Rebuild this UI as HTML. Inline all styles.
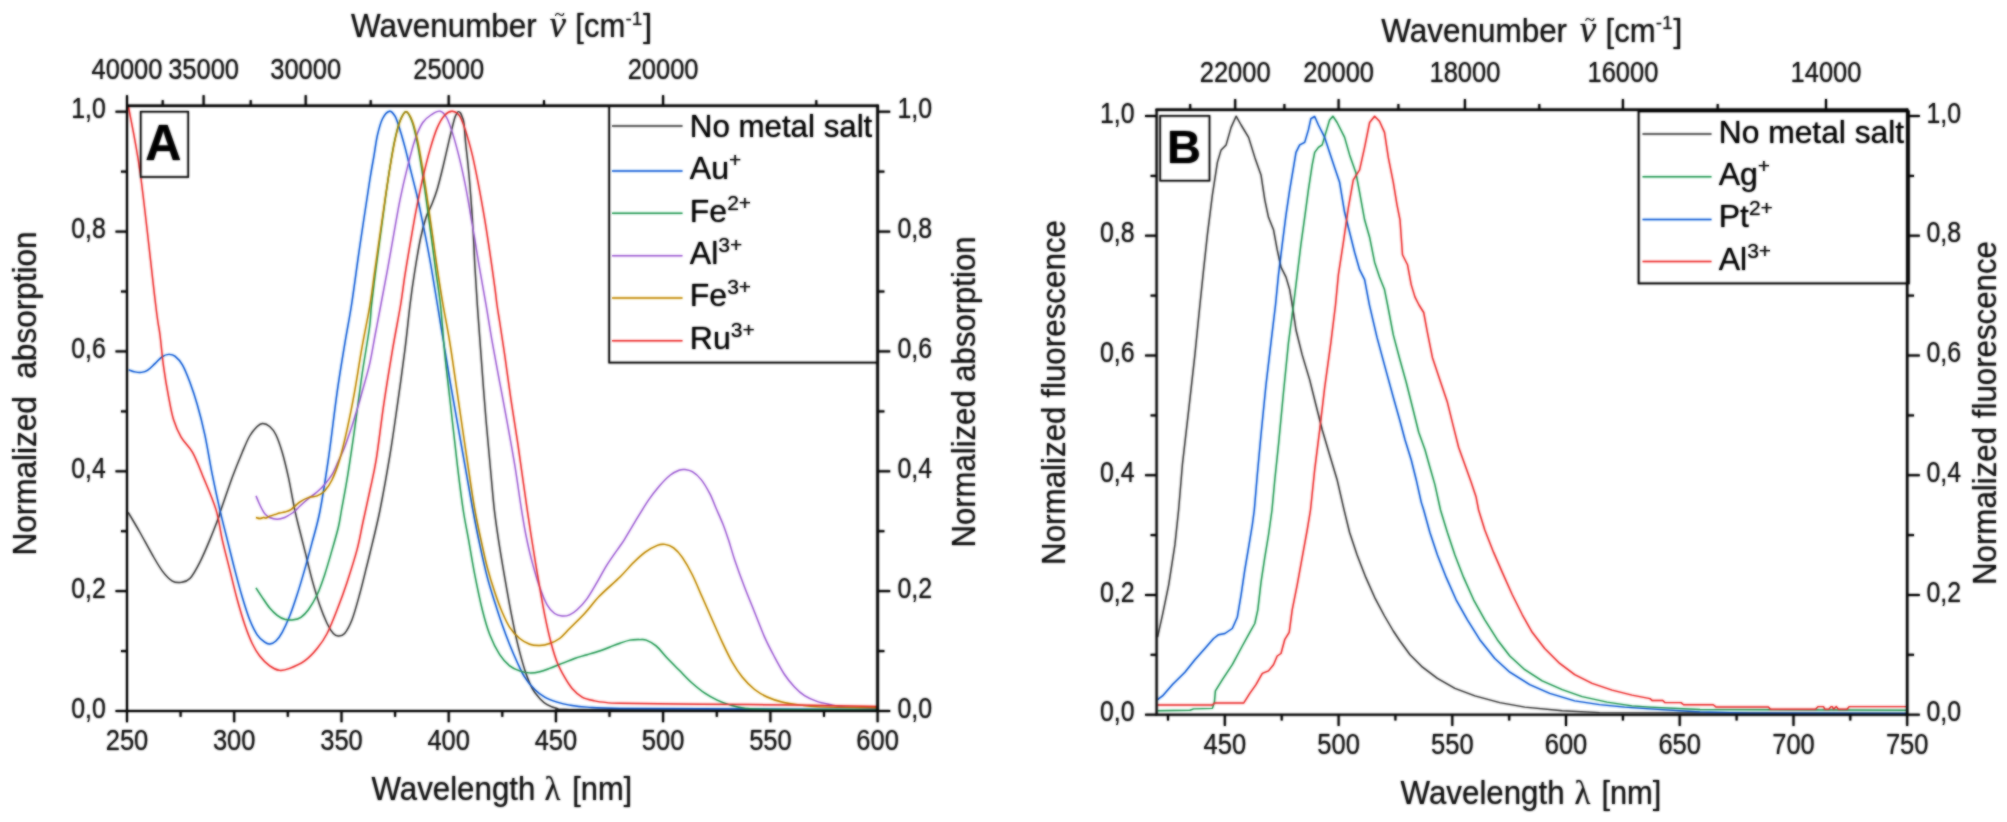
<!DOCTYPE html>
<html><head><meta charset="utf-8"><title>Spectra</title>
<style>html,body{margin:0;padding:0;background:#fff}svg{display:block}text{white-space:pre}</style></head>
<body>
<svg width="2007" height="822" viewBox="0 0 2007 822">
<rect width="2007" height="822" fill="#fff"/>
<defs><filter id="soft" color-interpolation-filters="sRGB" x="0" y="0" width="2007" height="822" filterUnits="userSpaceOnUse"><feGaussianBlur stdDeviation="0.80" result="b"/><feComponentTransfer in="SourceGraphic" result="s"><feFuncR type="linear" slope="0.50" intercept="0.50"/><feFuncG type="linear" slope="0.50" intercept="0.50"/><feFuncB type="linear" slope="0.50" intercept="0.50"/></feComponentTransfer><feBlend mode="multiply" in="b" in2="s"/></filter></defs>
<g filter="url(#soft)">
<rect width="2007" height="822" fill="#fff"/>
<g fill="none" stroke-width="1.45" stroke-linejoin="round" stroke-linecap="butt">
<path d="M128.2 512.5C130.2 515.8 136.0 525.4 140.0 532.5C144.0 539.6 148.7 548.5 152.4 554.9C156.1 561.3 159.1 566.7 162.4 571.1C165.7 575.5 169.3 579.2 172.4 581.1C175.5 583.0 178.2 582.8 181.1 582.4C184.0 582.0 186.8 581.9 189.9 578.6C193.0 575.3 196.5 568.9 199.8 562.4C203.1 555.9 206.7 547.4 209.8 539.9C212.9 532.4 216.7 522.5 218.6 517.5C220.5 512.5 218.7 516.3 221.0 509.6C223.3 502.9 228.8 486.8 232.3 477.2C235.9 467.6 239.4 459.1 242.3 452.2C245.2 445.3 247.2 440.3 249.7 436.0C252.2 431.7 255.0 428.6 257.2 426.5C259.4 424.4 260.6 423.5 262.7 423.5C264.8 423.5 267.5 424.6 269.7 426.5C271.9 428.4 273.8 430.4 275.9 434.7C278.0 439.0 280.1 445.1 282.2 452.2C284.3 459.3 286.3 467.6 288.4 477.2C290.5 486.8 292.8 500.8 294.7 509.6C296.6 518.4 297.7 522.5 299.6 530.0C301.5 537.5 303.8 546.6 305.9 554.9C308.0 563.2 309.8 571.6 312.1 579.9C314.4 588.2 317.1 597.5 319.6 604.8C322.1 612.1 324.8 618.7 327.1 623.5C329.4 628.3 331.4 631.4 333.3 633.5C335.2 635.6 336.4 636.0 338.3 636.0C340.2 636.0 342.3 636.2 344.6 633.5C346.9 630.8 349.5 626.2 352.0 619.8C354.5 613.3 357.2 603.1 359.5 594.8C361.8 586.5 364.1 576.9 365.8 569.9C367.6 562.9 367.6 563.0 370.0 553.0C372.4 543.0 376.7 526.4 380.0 510.0C383.3 493.6 387.1 472.2 390.0 454.7C392.9 437.2 394.9 422.3 397.4 404.8C399.9 387.3 402.8 366.5 404.9 349.9C407.0 333.3 408.4 318.1 410.0 305.0C411.6 291.9 413.0 282.2 414.8 271.0C416.6 259.8 418.7 246.9 420.6 238.0C422.5 229.1 424.2 223.0 426.0 217.5C427.8 212.0 429.6 209.8 431.5 205.0C433.4 200.2 435.4 195.5 437.3 189.0C439.2 182.5 441.2 174.3 443.2 166.0C445.2 157.7 447.5 147.1 449.4 139.2C451.3 131.3 453.2 123.1 454.5 118.7C455.8 114.3 456.4 114.2 457.0 113.0C457.6 111.8 457.8 111.6 458.4 111.6C459.0 111.6 459.9 112.1 460.5 113.0C461.1 113.9 461.6 115.3 462.2 117.0C462.8 118.7 463.3 118.7 463.9 123.0C464.5 127.3 465.0 136.8 465.6 142.6C466.2 148.4 466.7 152.5 467.3 157.9C467.9 163.3 468.4 168.8 469.0 175.0C469.6 181.2 470.1 188.0 470.7 195.4C471.3 202.8 471.9 211.9 472.4 219.3C472.9 226.7 473.2 232.1 473.6 239.7C474.0 247.3 474.2 253.9 474.8 264.7C475.4 275.5 476.3 289.6 477.3 304.6C478.3 319.6 479.6 335.7 481.0 354.9C482.4 374.1 484.3 399.8 486.0 419.8C487.7 439.8 489.6 459.7 491.0 474.7C492.4 489.7 493.1 498.7 494.3 509.6C495.6 520.5 496.8 528.6 498.5 539.9C500.2 551.2 502.6 565.3 504.7 577.4C506.8 589.5 508.9 601.5 511.0 612.3C513.1 623.1 514.9 632.6 517.2 642.2C519.5 651.8 522.2 662.0 524.7 669.7C527.2 677.4 529.7 683.6 532.2 688.4C534.7 693.2 537.2 695.7 539.7 698.4C542.2 701.1 544.2 702.9 547.1 704.6C550.0 706.3 553.4 707.6 557.1 708.4C560.9 709.2 545.8 709.3 569.6 709.6C593.4 709.9 648.8 709.9 700.0 710.0C751.2 710.1 847.5 710.0 877.0 710.0" stroke="#515151"/>
<path d="M128.7 369.9C129.8 370.2 132.9 371.5 135.0 371.9C137.1 372.3 139.1 372.6 141.2 372.4C143.3 372.1 145.1 371.9 147.4 370.4C149.7 368.9 152.5 365.9 155.0 363.6C157.5 361.3 160.1 358.1 162.4 356.6C164.7 355.1 166.6 354.5 168.7 354.4C170.8 354.3 172.6 354.4 174.9 356.1C177.2 357.9 179.9 360.5 182.4 364.9C184.9 369.3 187.4 375.6 189.9 382.3C192.4 389.0 194.8 396.1 197.3 404.8C199.8 413.5 202.3 423.1 204.8 434.7C207.3 446.3 209.8 462.2 212.3 474.7C214.8 487.2 217.3 498.7 219.8 509.6C222.3 520.5 224.8 529.9 227.3 539.9C229.8 549.9 232.3 560.3 234.8 569.9C237.3 579.5 239.8 589.0 242.3 597.3C244.8 605.6 247.2 613.5 249.7 619.8C252.2 626.0 254.7 631.1 257.2 634.8C259.7 638.5 262.6 640.7 264.7 642.2C266.8 643.7 267.8 644.2 269.7 644.0C271.6 643.8 273.8 643.0 275.9 641.0C278.0 639.0 279.9 636.5 282.2 632.3C284.5 628.1 287.2 622.2 289.7 616.0C292.2 609.8 294.6 602.5 297.1 594.8C299.6 587.1 302.1 578.6 304.6 569.9C307.1 561.2 309.5 552.2 312.1 542.4C314.7 532.6 317.3 524.8 320.0 511.0C322.7 497.2 325.4 479.5 328.3 459.7C331.2 439.9 334.4 411.4 337.1 392.3C339.8 373.2 342.2 359.4 344.6 344.9C347.0 330.3 348.9 321.6 351.5 305.0C354.1 288.4 356.9 265.8 360.0 245.0C363.1 224.2 367.5 194.6 369.8 180.0C372.1 165.4 372.4 164.9 373.7 157.4C375.0 149.9 376.0 141.3 377.5 134.9C379.0 128.5 380.5 122.7 382.5 118.7C384.5 114.8 387.4 111.6 389.5 111.2C391.6 110.8 393.2 113.1 395.0 116.2C396.8 119.3 398.3 124.8 400.0 130.0C401.7 135.2 403.1 140.3 405.0 147.4C406.9 154.5 409.1 164.1 411.2 172.4C413.3 180.7 415.3 188.2 417.4 197.3C419.5 206.4 421.5 216.8 423.6 227.2C425.7 237.6 428.0 249.2 429.9 259.7C431.8 270.2 432.9 277.4 435.0 290.0C437.1 302.6 439.9 320.0 442.4 335.0C444.9 350.0 447.3 365.3 449.8 379.9C452.3 394.4 454.8 408.2 457.3 422.3C459.8 436.4 462.3 450.6 464.8 464.7C467.3 478.8 469.8 493.6 472.3 507.0C474.8 520.4 477.3 533.2 479.8 544.9C482.3 556.6 484.8 567.8 487.3 577.4C489.8 587.0 492.3 594.4 494.8 602.3C497.3 610.2 499.7 617.7 502.2 624.8C504.7 631.9 507.2 638.5 509.7 644.7C512.2 650.9 514.7 656.8 517.2 662.2C519.7 667.6 521.8 672.6 524.7 677.2C527.6 681.8 531.4 686.3 534.7 689.6C538.0 692.9 541.0 695.0 544.7 697.1C548.4 699.2 553.0 700.8 557.1 702.1C561.2 703.4 564.6 704.3 569.6 705.1C574.6 705.9 578.7 706.6 587.1 707.1C595.5 707.6 592.9 708.1 620.0 708.4C647.1 708.7 707.2 708.8 750.0 709.0C792.8 709.2 855.8 709.3 877.0 709.4" stroke="#1A6FDF"/>
<path d="M256.0 587.8C257.0 589.4 259.9 593.9 262.2 597.3C264.5 600.7 267.2 605.0 269.7 608.0C272.2 611.0 274.7 613.4 277.2 615.3C279.7 617.2 282.0 618.5 284.7 619.3C287.4 620.0 290.7 620.1 293.4 619.8C296.1 619.5 298.4 619.0 300.9 617.3C303.4 615.6 305.7 613.5 308.4 609.8C311.1 606.0 314.4 600.6 317.1 594.8C319.8 589.0 322.1 582.4 324.6 574.9C327.1 567.4 329.8 557.8 332.1 549.9C334.4 542.0 336.7 534.1 338.3 527.5C339.9 520.9 340.1 518.0 341.5 510.0C342.9 502.0 344.8 493.1 347.0 479.7C349.2 466.3 352.0 447.3 354.5 429.8C357.0 412.3 359.5 391.9 362.0 374.9C364.5 357.8 367.9 339.1 369.5 327.5C371.1 315.9 370.4 314.6 371.5 305.0C372.6 295.4 374.3 281.4 375.8 269.7C377.3 258.0 378.9 246.3 380.5 234.7C382.1 223.0 383.6 211.0 385.2 199.8C386.8 188.6 388.3 177.4 389.9 167.4C391.5 157.4 393.1 147.6 394.8 139.9C396.5 132.2 397.9 125.9 399.8 121.2C401.7 116.5 404.0 111.7 406.0 111.7C408.0 111.7 410.1 116.5 411.9 121.2C413.7 125.9 415.1 132.2 416.7 139.9C418.3 147.6 419.9 157.4 421.5 167.4C423.1 177.4 424.7 188.6 426.3 199.8C427.9 211.0 429.4 223.0 431.0 234.7C432.6 246.3 434.0 258.0 435.6 269.7C437.2 281.4 438.9 290.8 440.5 305.0C442.1 319.2 443.1 337.4 444.9 354.9C446.7 372.4 449.0 391.5 451.1 409.8C453.2 428.1 455.3 448.0 457.3 464.7C459.3 481.4 461.3 497.5 463.2 510.0C465.1 522.5 466.7 529.1 468.6 539.9C470.5 550.7 472.5 563.2 474.8 574.9C477.1 586.5 479.8 599.8 482.3 609.8C484.8 619.8 486.9 627.3 489.8 634.8C492.7 642.3 496.4 649.5 499.7 654.7C503.0 659.9 506.4 663.2 509.7 665.9C513.0 668.6 516.4 669.7 519.7 670.9C523.0 672.1 526.4 672.8 529.7 672.9C533.0 673.0 536.4 672.5 539.7 671.7C543.0 671.0 545.9 669.8 549.6 668.4C553.3 667.0 557.9 665.0 562.1 663.4C566.3 661.8 570.4 660.0 574.6 658.5C578.8 657.0 583.0 656.0 587.1 654.7C591.2 653.5 595.8 652.2 599.5 651.0C603.2 649.8 606.1 648.5 609.5 647.2C612.9 645.9 616.6 644.4 620.0 643.2C623.4 642.0 626.7 640.7 630.0 640.1C633.3 639.5 637.2 639.6 639.9 639.6C642.6 639.6 643.5 639.1 646.2 640.1C648.9 641.1 652.6 642.9 656.1 645.9C659.6 648.9 663.5 654.1 667.4 658.3C671.3 662.4 675.6 666.6 679.8 670.8C683.9 675.0 688.1 679.6 692.3 683.3C696.5 687.0 700.6 690.4 704.8 693.2C708.9 696.0 713.1 698.2 717.2 700.2C721.4 702.2 725.1 703.6 729.7 704.9C734.3 706.2 738.0 707.5 744.6 708.2C751.2 709.0 747.5 709.1 769.6 709.4C791.7 709.7 859.1 709.9 877.0 710.0" stroke="#37AD6B"/>
<path d="M256.0 495.9C256.5 497.1 258.0 500.7 259.0 503.0C260.0 505.3 261.2 507.7 262.2 509.5C263.2 511.3 263.8 512.7 265.0 514.0C266.2 515.3 267.7 516.6 269.7 517.5C271.7 518.4 274.7 519.2 277.2 519.2C279.7 519.2 282.6 518.3 284.7 517.5C286.8 516.7 288.3 515.5 290.0 514.5C291.7 513.5 293.0 512.6 294.7 511.2C296.4 509.8 297.8 508.0 300.0 506.0C302.2 504.0 305.2 501.3 308.0 499.0C310.8 496.7 314.2 494.4 317.0 492.0C319.8 489.6 322.1 487.4 324.6 484.5C327.1 481.6 329.8 478.4 332.0 474.7C334.2 470.9 335.9 466.6 338.0 462.0C340.1 457.4 342.4 452.7 344.6 447.2C346.8 441.7 348.9 435.2 351.0 429.0C353.1 422.8 354.9 416.8 357.0 409.8C359.1 402.8 361.3 394.9 363.5 387.0C365.7 379.1 368.0 371.4 370.0 362.4C372.0 353.4 373.6 342.9 375.5 333.0C377.4 323.1 379.2 313.6 381.2 303.0C383.2 292.4 385.4 281.1 387.5 269.7C389.6 258.3 391.6 246.3 393.7 234.7C395.8 223.0 397.7 211.0 400.0 199.8C402.3 188.6 404.9 177.4 407.4 167.4C409.9 157.4 412.3 147.4 414.9 139.9C417.5 132.4 419.9 126.8 422.8 122.5C425.7 118.2 429.1 116.2 432.0 114.3C434.9 112.4 437.8 110.7 440.2 111.2C442.6 111.7 444.6 114.0 446.6 117.5C448.6 121.0 450.3 126.2 452.3 132.4C454.3 138.6 456.5 146.6 458.6 154.9C460.7 163.2 462.9 173.2 464.8 182.3C466.7 191.5 468.1 200.2 469.8 209.8C471.5 219.4 473.1 229.7 474.8 239.7C476.5 249.7 477.9 258.9 479.8 269.7C481.7 280.5 483.9 292.5 486.0 304.6C488.1 316.7 490.0 329.4 492.3 342.4C494.6 355.3 497.2 369.0 499.7 382.3C502.2 395.6 504.7 408.6 507.2 422.3C509.7 436.0 512.3 450.1 514.7 464.7C517.1 479.2 519.6 497.9 521.5 509.6C523.4 521.3 524.1 526.2 525.9 535.0C527.7 543.8 529.9 553.7 532.2 562.4C534.5 571.1 537.2 580.2 539.7 587.3C542.2 594.4 544.6 600.4 547.1 604.8C549.6 609.2 552.1 611.6 554.6 613.5C557.1 615.4 559.6 615.8 562.1 616.0C564.6 616.2 567.1 615.8 569.6 614.8C572.1 613.8 574.2 612.5 577.1 609.8C580.0 607.1 583.8 603.2 587.1 598.6C590.4 594.0 593.7 588.0 597.0 582.4C600.3 576.8 603.2 571.0 607.0 564.9C610.8 558.8 617.1 550.2 620.0 546.0C622.9 541.8 621.5 544.3 624.4 539.6C627.3 534.9 633.5 524.3 637.5 517.7C641.5 511.1 644.9 505.5 648.5 500.2C652.1 494.9 655.8 490.2 659.4 486.0C663.0 481.8 667.1 477.6 670.4 475.0C673.7 472.4 676.7 471.1 679.1 470.2C681.5 469.3 682.4 469.2 684.6 469.5C686.8 469.8 689.6 470.1 692.3 471.7C695.0 473.3 698.1 475.8 701.0 479.4C703.9 483.0 707.2 488.7 709.8 493.6C712.4 498.5 714.2 503.9 716.4 509.0C718.6 514.1 721.0 519.2 723.0 524.3C725.0 529.4 726.4 533.7 728.4 539.6C730.4 545.5 732.0 552.0 734.7 559.9C737.4 567.8 741.3 578.6 744.6 587.3C747.9 596.0 751.3 603.9 754.6 612.2C757.9 620.5 761.3 629.6 764.6 637.1C767.9 644.6 771.3 650.9 774.6 657.1C777.9 663.3 781.2 669.5 784.5 674.5C787.8 679.5 791.2 683.5 794.5 687.0C797.8 690.5 800.8 693.3 804.5 695.7C808.2 698.1 812.8 700.0 816.9 701.4C821.0 702.8 824.8 703.5 829.4 704.4C834.0 705.3 836.5 706.3 844.4 706.9C852.3 707.5 871.6 708.0 877.0 708.2" stroke="#B177DE"/>
<path d="M256.0 517.5C256.7 517.7 258.8 518.5 260.0 518.5C261.2 518.5 262.5 517.6 263.5 517.5C264.5 517.4 265.0 518.2 266.0 518.0C267.0 517.8 268.2 516.8 269.7 516.2C271.2 515.6 273.3 515.0 275.0 514.5C276.7 514.0 278.0 513.4 279.7 513.0C281.4 512.6 283.1 512.6 285.0 512.0C286.9 511.4 288.5 511.2 290.9 509.6C293.3 508.0 296.7 504.1 299.6 502.1C302.5 500.1 305.5 498.6 308.4 497.6C311.3 496.6 314.4 497.0 317.1 495.9C319.8 494.8 322.1 493.6 324.6 490.9C327.1 488.2 329.6 484.9 332.1 479.7C334.6 474.5 337.1 468.0 339.6 459.7C342.1 451.4 344.5 441.0 347.0 429.8C349.5 418.6 352.0 406.0 354.5 392.3C357.0 378.6 359.4 361.9 362.0 347.4C364.6 332.8 367.8 317.9 370.0 305.0C372.2 292.1 373.3 281.4 375.0 269.7C376.7 258.0 378.3 246.3 380.0 234.7C381.7 223.0 383.3 211.0 385.0 199.8C386.7 188.6 388.3 177.4 390.0 167.4C391.7 157.4 393.3 147.6 395.0 139.9C396.7 132.2 398.1 125.9 400.0 121.2C401.9 116.5 404.1 111.7 406.2 111.7C408.3 111.7 410.5 116.5 412.4 121.2C414.3 125.9 415.7 132.2 417.4 139.9C419.1 147.6 420.7 157.4 422.4 167.4C424.1 177.4 425.7 188.6 427.4 199.8C429.1 211.0 430.7 223.0 432.4 234.7C434.1 246.3 435.6 258.0 437.4 269.7C439.2 281.4 440.9 292.5 443.0 304.6C445.1 316.7 447.6 329.0 449.8 342.4C452.0 355.8 454.0 370.6 456.1 384.8C458.2 399.0 460.2 413.2 462.3 427.3C464.4 441.4 466.5 456.0 468.6 469.7C470.7 483.4 472.7 497.9 474.8 509.6C476.9 521.3 478.9 530.3 481.0 539.9C483.1 549.5 485.0 558.7 487.3 567.4C489.6 576.1 492.3 584.8 494.8 592.3C497.3 599.8 499.7 606.5 502.2 612.3C504.7 618.1 506.8 622.9 509.7 627.3C512.6 631.7 516.4 635.7 519.7 638.5C523.0 641.3 526.4 643.0 529.7 644.2C533.0 645.4 536.4 645.6 539.7 645.5C543.0 645.4 546.3 644.7 549.6 643.5C552.9 642.3 556.3 641.0 559.6 638.5C562.9 636.0 565.4 632.7 569.6 628.5C573.8 624.3 579.6 618.9 584.6 613.5C589.6 608.1 593.6 602.2 599.5 596.1C605.4 590.0 614.5 582.4 620.0 577.0C625.5 571.6 628.4 567.7 632.5 563.6C636.6 559.5 640.8 555.4 644.9 552.4C649.0 549.4 654.1 546.7 657.4 545.4C660.7 544.1 662.2 544.0 664.9 544.4C667.6 544.8 670.7 545.7 673.6 547.9C676.5 550.1 679.2 552.9 682.3 557.4C685.4 561.9 689.0 568.1 692.3 574.8C695.6 581.4 699.0 589.8 702.3 597.3C705.6 604.8 708.9 612.2 712.2 619.7C715.5 627.2 718.9 635.0 722.2 642.1C725.5 649.2 728.9 656.3 732.2 662.1C735.5 667.9 738.5 672.4 742.2 677.0C745.9 681.6 750.5 686.2 754.6 689.5C758.8 692.8 762.5 694.9 767.1 697.0C771.7 699.1 776.6 700.7 782.0 702.0C787.4 703.3 793.3 704.1 799.5 704.9C805.7 705.7 806.5 706.4 819.4 706.9C832.3 707.4 867.4 707.6 877.0 707.7" stroke="#CC9900"/>
<path d="M128.5 107.0C130.5 118.3 136.0 142.0 140.5 175.0C145.0 208.0 152.4 278.3 155.7 305.0C158.9 331.7 158.7 324.6 160.0 335.0C161.3 345.4 162.2 357.0 163.7 367.4C165.1 377.8 167.0 388.6 168.7 397.3C170.3 406.0 171.5 413.2 173.6 419.8C175.7 426.4 178.0 431.8 181.1 437.2C184.2 442.6 188.9 445.9 192.4 452.2C195.9 458.4 198.4 465.1 202.3 474.7C206.2 484.3 212.7 498.7 216.0 509.6C219.3 520.5 220.0 529.9 222.3 539.9C224.6 549.9 227.3 559.9 229.8 569.9C232.3 579.9 234.8 590.6 237.3 599.8C239.8 608.9 242.3 617.5 244.8 624.8C247.3 632.1 249.7 638.3 252.2 643.5C254.7 648.7 256.8 652.3 259.7 656.0C262.6 659.7 266.4 663.5 269.7 665.9C273.0 668.3 276.4 670.0 279.7 670.4C283.0 670.8 285.5 670.0 289.7 668.4C293.9 666.8 300.0 664.2 304.6 660.9C309.2 657.6 313.4 653.1 317.1 648.5C320.9 643.9 323.8 640.0 327.1 633.5C330.4 627.0 333.8 618.3 337.1 609.8C340.4 601.3 343.7 592.4 347.0 582.4C350.3 572.4 354.3 560.0 357.0 549.9C359.7 539.8 360.8 532.0 363.0 522.0C365.2 512.0 367.8 500.4 370.0 490.0C372.2 479.6 373.9 473.9 376.2 459.7C378.5 445.5 381.0 423.1 383.7 404.8C386.4 386.5 389.7 366.5 392.5 349.9C395.3 333.3 398.5 317.6 400.6 305.0C402.7 292.4 403.4 284.7 405.0 274.6C406.6 264.6 408.1 255.5 410.0 244.7C411.9 233.9 414.1 220.6 416.2 209.8C418.3 199.0 420.1 189.8 422.4 179.8C424.7 169.8 427.4 158.6 429.9 149.9C432.4 141.2 434.9 133.2 437.4 127.4C439.9 121.6 442.4 117.7 444.9 115.0C447.4 112.3 449.8 111.0 452.3 111.2C454.8 111.4 457.5 112.7 459.8 116.2C462.1 119.7 464.0 126.0 466.1 132.4C468.2 138.8 470.2 146.2 472.3 154.9C474.4 163.6 476.4 174.0 478.5 184.8C480.6 195.6 482.9 208.6 484.8 219.8C486.7 231.0 488.1 241.0 489.8 252.2C491.5 263.4 493.6 278.3 494.8 287.1C496.0 295.9 496.2 299.2 497.0 305.0C497.8 310.8 498.4 313.7 499.7 322.0C501.0 330.3 502.8 341.9 504.7 354.9C506.6 367.9 508.9 385.7 511.0 399.8C513.1 413.9 515.3 427.2 517.2 439.7C519.1 452.2 520.5 463.0 522.2 474.7C523.9 486.4 525.5 498.3 527.2 509.6C528.9 520.9 530.3 530.7 532.2 542.4C534.1 554.1 536.3 567.8 538.4 579.9C540.5 592.0 542.6 604.4 544.7 614.8C546.8 625.2 548.8 634.3 550.9 642.2C553.0 650.1 554.8 656.4 557.1 662.2C559.4 668.0 562.1 672.8 564.6 677.2C567.1 681.6 569.2 685.1 572.1 688.4C575.0 691.7 578.4 695.0 582.1 697.1C585.9 699.2 590.5 700.0 594.6 700.9C598.8 701.8 602.8 702.2 607.0 702.6C611.2 703.0 604.5 702.9 620.0 703.2C635.5 703.5 670.9 703.9 700.0 704.2C729.1 704.5 765.0 704.6 794.5 705.0C824.0 705.4 863.2 706.2 877.0 706.5" stroke="#F14040"/>
</g>
<rect x="127.0" y="105.8" width="750.6" height="605.2" fill="none" stroke="#000" stroke-width="2.00"/>
<line x1="115.5" y1="711.0" x2="127.0" y2="711.0" stroke="#000" stroke-width="2.00"/>
<line x1="877.6" y1="711.0" x2="890.2" y2="711.0" stroke="#000" stroke-width="2.00"/>
<text transform="translate(105.8 717.5) scale(0.830 1)" font-size="30.0" text-anchor="end" font-family='"Liberation Sans", Arial, sans-serif' fill="#1a1a1a">0,0</text>
<text transform="translate(897.5 717.5) scale(0.830 1)" font-size="30.0" text-anchor="start" font-family='"Liberation Sans", Arial, sans-serif' fill="#1a1a1a">0,0</text>
<line x1="121.0" y1="651.1" x2="127.0" y2="651.1" stroke="#000" stroke-width="2.00"/>
<line x1="877.6" y1="651.1" x2="884.4" y2="651.1" stroke="#000" stroke-width="2.00"/>
<line x1="115.5" y1="591.1" x2="127.0" y2="591.1" stroke="#000" stroke-width="2.00"/>
<line x1="877.6" y1="591.1" x2="890.2" y2="591.1" stroke="#000" stroke-width="2.00"/>
<text transform="translate(105.8 597.6) scale(0.830 1)" font-size="30.0" text-anchor="end" font-family='"Liberation Sans", Arial, sans-serif' fill="#1a1a1a">0,2</text>
<text transform="translate(897.5 597.6) scale(0.830 1)" font-size="30.0" text-anchor="start" font-family='"Liberation Sans", Arial, sans-serif' fill="#1a1a1a">0,2</text>
<line x1="121.0" y1="531.2" x2="127.0" y2="531.2" stroke="#000" stroke-width="2.00"/>
<line x1="877.6" y1="531.2" x2="884.4" y2="531.2" stroke="#000" stroke-width="2.00"/>
<line x1="115.5" y1="471.3" x2="127.0" y2="471.3" stroke="#000" stroke-width="2.00"/>
<line x1="877.6" y1="471.3" x2="890.2" y2="471.3" stroke="#000" stroke-width="2.00"/>
<text transform="translate(105.8 477.8) scale(0.830 1)" font-size="30.0" text-anchor="end" font-family='"Liberation Sans", Arial, sans-serif' fill="#1a1a1a">0,4</text>
<text transform="translate(897.5 477.8) scale(0.830 1)" font-size="30.0" text-anchor="start" font-family='"Liberation Sans", Arial, sans-serif' fill="#1a1a1a">0,4</text>
<line x1="121.0" y1="411.4" x2="127.0" y2="411.4" stroke="#000" stroke-width="2.00"/>
<line x1="877.6" y1="411.4" x2="884.4" y2="411.4" stroke="#000" stroke-width="2.00"/>
<line x1="115.5" y1="351.4" x2="127.0" y2="351.4" stroke="#000" stroke-width="2.00"/>
<line x1="877.6" y1="351.4" x2="890.2" y2="351.4" stroke="#000" stroke-width="2.00"/>
<text transform="translate(105.8 357.9) scale(0.830 1)" font-size="30.0" text-anchor="end" font-family='"Liberation Sans", Arial, sans-serif' fill="#1a1a1a">0,6</text>
<text transform="translate(897.5 357.9) scale(0.830 1)" font-size="30.0" text-anchor="start" font-family='"Liberation Sans", Arial, sans-serif' fill="#1a1a1a">0,6</text>
<line x1="121.0" y1="291.5" x2="127.0" y2="291.5" stroke="#000" stroke-width="2.00"/>
<line x1="877.6" y1="291.5" x2="884.4" y2="291.5" stroke="#000" stroke-width="2.00"/>
<line x1="115.5" y1="231.6" x2="127.0" y2="231.6" stroke="#000" stroke-width="2.00"/>
<line x1="877.6" y1="231.6" x2="890.2" y2="231.6" stroke="#000" stroke-width="2.00"/>
<text transform="translate(105.8 238.1) scale(0.830 1)" font-size="30.0" text-anchor="end" font-family='"Liberation Sans", Arial, sans-serif' fill="#1a1a1a">0,8</text>
<text transform="translate(897.5 238.1) scale(0.830 1)" font-size="30.0" text-anchor="start" font-family='"Liberation Sans", Arial, sans-serif' fill="#1a1a1a">0,8</text>
<line x1="121.0" y1="171.6" x2="127.0" y2="171.6" stroke="#000" stroke-width="2.00"/>
<line x1="877.6" y1="171.6" x2="884.4" y2="171.6" stroke="#000" stroke-width="2.00"/>
<line x1="115.5" y1="111.7" x2="127.0" y2="111.7" stroke="#000" stroke-width="2.00"/>
<line x1="877.6" y1="111.7" x2="890.2" y2="111.7" stroke="#000" stroke-width="2.00"/>
<text transform="translate(105.8 118.2) scale(0.830 1)" font-size="30.0" text-anchor="end" font-family='"Liberation Sans", Arial, sans-serif' fill="#1a1a1a">1,0</text>
<text transform="translate(897.5 118.2) scale(0.830 1)" font-size="30.0" text-anchor="start" font-family='"Liberation Sans", Arial, sans-serif' fill="#1a1a1a">1,0</text>
<line x1="127.0" y1="711.0" x2="127.0" y2="722.2" stroke="#000" stroke-width="2.00"/>
<text transform="translate(127.0 750.0) scale(0.850 1)" font-size="30.0" text-anchor="middle" font-family='"Liberation Sans", Arial, sans-serif' fill="#1a1a1a">250</text>
<line x1="234.2" y1="711.0" x2="234.2" y2="722.2" stroke="#000" stroke-width="2.00"/>
<text transform="translate(234.2 750.0) scale(0.850 1)" font-size="30.0" text-anchor="middle" font-family='"Liberation Sans", Arial, sans-serif' fill="#1a1a1a">300</text>
<line x1="341.5" y1="711.0" x2="341.5" y2="722.2" stroke="#000" stroke-width="2.00"/>
<text transform="translate(341.5 750.0) scale(0.850 1)" font-size="30.0" text-anchor="middle" font-family='"Liberation Sans", Arial, sans-serif' fill="#1a1a1a">350</text>
<line x1="448.7" y1="711.0" x2="448.7" y2="722.2" stroke="#000" stroke-width="2.00"/>
<text transform="translate(448.7 750.0) scale(0.850 1)" font-size="30.0" text-anchor="middle" font-family='"Liberation Sans", Arial, sans-serif' fill="#1a1a1a">400</text>
<line x1="555.9" y1="711.0" x2="555.9" y2="722.2" stroke="#000" stroke-width="2.00"/>
<text transform="translate(555.9 750.0) scale(0.850 1)" font-size="30.0" text-anchor="middle" font-family='"Liberation Sans", Arial, sans-serif' fill="#1a1a1a">450</text>
<line x1="663.1" y1="711.0" x2="663.1" y2="722.2" stroke="#000" stroke-width="2.00"/>
<text transform="translate(663.1 750.0) scale(0.850 1)" font-size="30.0" text-anchor="middle" font-family='"Liberation Sans", Arial, sans-serif' fill="#1a1a1a">500</text>
<line x1="770.4" y1="711.0" x2="770.4" y2="722.2" stroke="#000" stroke-width="2.00"/>
<text transform="translate(770.4 750.0) scale(0.850 1)" font-size="30.0" text-anchor="middle" font-family='"Liberation Sans", Arial, sans-serif' fill="#1a1a1a">550</text>
<line x1="877.6" y1="711.0" x2="877.6" y2="722.2" stroke="#000" stroke-width="2.00"/>
<text transform="translate(877.6 750.0) scale(0.850 1)" font-size="30.0" text-anchor="middle" font-family='"Liberation Sans", Arial, sans-serif' fill="#1a1a1a">600</text>
<line x1="180.6" y1="711.0" x2="180.6" y2="716.8" stroke="#000" stroke-width="2.00"/>
<line x1="287.8" y1="711.0" x2="287.8" y2="716.8" stroke="#000" stroke-width="2.00"/>
<line x1="395.1" y1="711.0" x2="395.1" y2="716.8" stroke="#000" stroke-width="2.00"/>
<line x1="502.3" y1="711.0" x2="502.3" y2="716.8" stroke="#000" stroke-width="2.00"/>
<line x1="609.5" y1="711.0" x2="609.5" y2="716.8" stroke="#000" stroke-width="2.00"/>
<line x1="716.8" y1="711.0" x2="716.8" y2="716.8" stroke="#000" stroke-width="2.00"/>
<line x1="824.0" y1="711.0" x2="824.0" y2="716.8" stroke="#000" stroke-width="2.00"/>
<line x1="127.0" y1="105.8" x2="127.0" y2="95.2" stroke="#000" stroke-width="2.00"/>
<text transform="translate(127.0 78.5) scale(0.850 1)" font-size="30.0" text-anchor="middle" font-family='"Liberation Sans", Arial, sans-serif' fill="#1a1a1a">40000</text>
<line x1="203.6" y1="105.8" x2="203.6" y2="95.2" stroke="#000" stroke-width="2.00"/>
<text transform="translate(203.6 78.5) scale(0.850 1)" font-size="30.0" text-anchor="middle" font-family='"Liberation Sans", Arial, sans-serif' fill="#1a1a1a">35000</text>
<line x1="305.7" y1="105.8" x2="305.7" y2="95.2" stroke="#000" stroke-width="2.00"/>
<text transform="translate(305.7 78.5) scale(0.850 1)" font-size="30.0" text-anchor="middle" font-family='"Liberation Sans", Arial, sans-serif' fill="#1a1a1a">30000</text>
<line x1="448.7" y1="105.8" x2="448.7" y2="95.2" stroke="#000" stroke-width="2.00"/>
<text transform="translate(448.7 78.5) scale(0.850 1)" font-size="30.0" text-anchor="middle" font-family='"Liberation Sans", Arial, sans-serif' fill="#1a1a1a">25000</text>
<line x1="663.1" y1="105.8" x2="663.1" y2="95.2" stroke="#000" stroke-width="2.00"/>
<text transform="translate(663.1 78.5) scale(0.850 1)" font-size="30.0" text-anchor="middle" font-family='"Liberation Sans", Arial, sans-serif' fill="#1a1a1a">20000</text>
<line x1="162.7" y1="105.8" x2="162.7" y2="100.2" stroke="#000" stroke-width="2.00"/>
<line x1="250.7" y1="105.8" x2="250.7" y2="100.2" stroke="#000" stroke-width="2.00"/>
<line x1="370.7" y1="105.8" x2="370.7" y2="100.2" stroke="#000" stroke-width="2.00"/>
<line x1="544.0" y1="105.8" x2="544.0" y2="100.2" stroke="#000" stroke-width="2.00"/>
<line x1="816.3" y1="105.8" x2="816.3" y2="100.2" stroke="#000" stroke-width="2.00"/>
<g fill="none" stroke-width="1.45" stroke-linejoin="round" stroke-linecap="butt">
<path d="M1157.5 637.2L1162.5 614.8L1168.7 584.8L1174.9 544.9L1178.6 510.0L1182.4 464.7L1188.7 409.8L1194.9 354.9L1199.9 305.0L1203.6 269.7L1207.4 234.7L1212.4 194.8L1217.4 162.4L1221.1 149.9L1226.1 144.9L1231.1 127.4L1236.1 116.2L1241.1 125.0L1248.6 137.4L1254.8 157.4L1261.0 174.9L1264.8 199.8L1268.5 217.3L1273.5 229.7L1277.2 249.7L1281.0 267.2L1286.0 277.1L1289.7 289.6L1292.2 304.6L1296.0 330.0L1302.2 354.9L1309.7 379.9L1315.9 404.8L1322.2 429.8L1329.6 454.7L1337.1 479.7L1344.0 509.6L1349.6 532.5L1357.1 554.9L1365.8 577.4L1374.6 597.3L1384.5 616.0L1393.3 631.0L1400.0 641.0L1410.0 654.7L1422.5 667.2L1437.4 678.4L1454.9 688.4L1474.9 695.9L1499.8 702.6L1524.8 707.1L1562.2 710.8L1599.6 712.6L1907.0 713.5" stroke="#515151"/>
<path d="M1157.5 710.8L1189.9 710.3L1193.7 708.9L1212.4 708.4L1214.4 702.1L1215.4 690.9L1222.4 679.7L1232.3 664.7L1242.3 646.0L1249.8 632.3L1254.8 623.5L1257.8 609.8L1261.0 582.4L1264.8 557.4L1268.5 535.0L1272.0 510.0L1274.8 479.7L1278.5 444.7L1283.5 392.3L1288.5 342.4L1293.5 305.0L1297.2 274.6L1300.9 244.7L1304.7 217.3L1308.4 189.8L1312.2 164.9L1314.7 152.4L1318.4 147.4L1322.2 144.9L1325.9 132.4L1329.6 120.0L1332.9 116.2L1337.1 122.5L1344.6 137.4L1349.6 154.9L1355.8 172.4L1359.6 192.3L1364.6 219.8L1369.6 237.2L1374.6 262.2L1379.5 277.1L1384.5 289.6L1387.6 305.0L1393.3 334.9L1400.0 360.0L1406.2 382.3L1412.5 407.3L1418.7 432.2L1425.0 449.7L1429.9 467.2L1434.9 484.6L1440.5 510.0L1447.4 532.5L1454.9 554.9L1463.6 577.4L1473.6 599.8L1484.8 619.8L1497.3 639.7L1509.8 656.0L1524.8 669.7L1542.2 680.9L1562.2 689.6L1582.1 696.6L1607.1 702.1L1632.0 705.9L1650.0 707.1L1700.0 709.5L1907.0 710.2" stroke="#37AD6B"/>
<path d="M1157.5 699.6L1162.5 695.9L1172.5 684.6L1184.9 672.2L1194.9 659.7L1204.9 648.5L1213.6 638.5L1218.6 634.7L1224.9 633.5L1232.3 628.5L1237.3 617.3L1241.1 594.8L1244.8 569.9L1248.6 547.4L1252.3 525.0L1254.3 510.0L1257.3 474.7L1261.0 434.7L1266.0 384.8L1271.0 342.4L1275.5 305.0L1278.5 274.6L1282.2 244.7L1286.0 214.8L1289.7 189.8L1293.5 167.4L1296.0 152.4L1299.7 144.9L1304.7 142.4L1308.4 129.9L1310.9 118.7L1314.7 116.5L1318.4 125.0L1324.7 137.4L1329.6 152.4L1334.6 167.4L1339.6 182.3L1344.6 212.3L1349.6 232.2L1354.6 252.2L1359.6 269.7L1364.6 279.6L1369.4 304.8L1377.0 337.4L1385.8 369.9L1393.3 397.3L1400.0 421.0L1405.0 439.7L1411.2 459.7L1416.2 479.7L1421.2 502.1L1423.7 510.0L1429.9 532.5L1437.4 554.9L1446.2 577.4L1456.1 599.8L1467.4 619.8L1479.8 639.7L1494.8 658.5L1509.8 672.2L1529.7 684.6L1549.7 693.4L1574.7 700.9L1599.6 704.6L1624.6 707.1L1650.0 708.9L1700.0 712.0L1750.0 713.2L1907.0 713.4" stroke="#1A6FDF"/>
<path d="M1157.5 704.9L1212.5 704.9L1214.5 702.9L1243.8 702.9L1249.8 693.4L1256.0 684.7L1262.3 673.4L1268.5 670.9L1273.5 664.7L1277.2 656.0L1281.0 653.5L1284.7 639.7L1289.2 632.3L1292.2 609.8L1297.2 584.8L1302.2 557.4L1307.2 530.0L1310.5 510.0L1314.7 469.7L1319.7 429.8L1324.7 387.3L1330.9 342.4L1335.5 305.0L1338.4 274.6L1343.4 242.2L1348.4 207.3L1353.3 179.8L1359.6 169.9L1364.6 147.4L1369.6 122.5L1374.6 116.2L1379.5 121.2L1384.5 132.4L1388.3 157.4L1393.3 182.3L1397.0 204.8L1400.0 219.8L1402.5 254.7L1407.5 264.7L1411.2 284.6L1415.0 297.1L1419.0 305.0L1423.7 312.5L1427.4 332.4L1432.4 357.4L1439.9 379.9L1447.4 402.3L1453.6 427.3L1458.6 447.2L1464.9 464.7L1471.1 482.1L1476.1 497.1L1478.6 510.0L1484.8 530.0L1493.6 552.4L1502.3 572.4L1512.3 594.8L1522.3 614.8L1532.2 632.3L1544.7 648.5L1559.7 663.4L1574.7 674.7L1592.1 683.4L1612.1 690.1L1632.0 695.1L1650.0 698.6L1652.0 700.4L1662.8 700.4L1664.8 702.6L1681.0 702.6L1683.6 704.8L1713.2 704.8L1715.9 706.9L1768.4 706.9L1770.4 709.2L1815.5 709.2L1818.2 706.6L1823.5 706.6L1824.9 709.3L1828.9 709.3L1831.0 706.6L1832.3 706.6L1833.6 709.3L1836.3 706.6L1838.4 709.3L1847.1 709.3L1849.1 706.6L1906.0 706.6" stroke="#F14040"/>
</g>
<rect x="1156.6" y="109.7" width="750.6" height="605.0" fill="none" stroke="#000" stroke-width="2.00"/>
<line x1="1145.1" y1="714.7" x2="1156.6" y2="714.7" stroke="#000" stroke-width="2.00"/>
<line x1="1907.2" y1="714.7" x2="1919.8" y2="714.7" stroke="#000" stroke-width="2.00"/>
<text transform="translate(1134.5 721.2) scale(0.830 1)" font-size="30.0" text-anchor="end" font-family='"Liberation Sans", Arial, sans-serif' fill="#1a1a1a">0,0</text>
<text transform="translate(1926.5 721.2) scale(0.830 1)" font-size="30.0" text-anchor="start" font-family='"Liberation Sans", Arial, sans-serif' fill="#1a1a1a">0,0</text>
<line x1="1150.6" y1="654.8" x2="1156.6" y2="654.8" stroke="#000" stroke-width="2.00"/>
<line x1="1907.2" y1="654.8" x2="1914.0" y2="654.8" stroke="#000" stroke-width="2.00"/>
<line x1="1145.1" y1="595.0" x2="1156.6" y2="595.0" stroke="#000" stroke-width="2.00"/>
<line x1="1907.2" y1="595.0" x2="1919.8" y2="595.0" stroke="#000" stroke-width="2.00"/>
<text transform="translate(1134.5 601.5) scale(0.830 1)" font-size="30.0" text-anchor="end" font-family='"Liberation Sans", Arial, sans-serif' fill="#1a1a1a">0,2</text>
<text transform="translate(1926.5 601.5) scale(0.830 1)" font-size="30.0" text-anchor="start" font-family='"Liberation Sans", Arial, sans-serif' fill="#1a1a1a">0,2</text>
<line x1="1150.6" y1="535.1" x2="1156.6" y2="535.1" stroke="#000" stroke-width="2.00"/>
<line x1="1907.2" y1="535.1" x2="1914.0" y2="535.1" stroke="#000" stroke-width="2.00"/>
<line x1="1145.1" y1="475.2" x2="1156.6" y2="475.2" stroke="#000" stroke-width="2.00"/>
<line x1="1907.2" y1="475.2" x2="1919.8" y2="475.2" stroke="#000" stroke-width="2.00"/>
<text transform="translate(1134.5 481.7) scale(0.830 1)" font-size="30.0" text-anchor="end" font-family='"Liberation Sans", Arial, sans-serif' fill="#1a1a1a">0,4</text>
<text transform="translate(1926.5 481.7) scale(0.830 1)" font-size="30.0" text-anchor="start" font-family='"Liberation Sans", Arial, sans-serif' fill="#1a1a1a">0,4</text>
<line x1="1150.6" y1="415.4" x2="1156.6" y2="415.4" stroke="#000" stroke-width="2.00"/>
<line x1="1907.2" y1="415.4" x2="1914.0" y2="415.4" stroke="#000" stroke-width="2.00"/>
<line x1="1145.1" y1="355.5" x2="1156.6" y2="355.5" stroke="#000" stroke-width="2.00"/>
<line x1="1907.2" y1="355.5" x2="1919.8" y2="355.5" stroke="#000" stroke-width="2.00"/>
<text transform="translate(1134.5 362.0) scale(0.830 1)" font-size="30.0" text-anchor="end" font-family='"Liberation Sans", Arial, sans-serif' fill="#1a1a1a">0,6</text>
<text transform="translate(1926.5 362.0) scale(0.830 1)" font-size="30.0" text-anchor="start" font-family='"Liberation Sans", Arial, sans-serif' fill="#1a1a1a">0,6</text>
<line x1="1150.6" y1="295.6" x2="1156.6" y2="295.6" stroke="#000" stroke-width="2.00"/>
<line x1="1907.2" y1="295.6" x2="1914.0" y2="295.6" stroke="#000" stroke-width="2.00"/>
<line x1="1145.1" y1="235.7" x2="1156.6" y2="235.7" stroke="#000" stroke-width="2.00"/>
<line x1="1907.2" y1="235.7" x2="1919.8" y2="235.7" stroke="#000" stroke-width="2.00"/>
<text transform="translate(1134.5 242.2) scale(0.830 1)" font-size="30.0" text-anchor="end" font-family='"Liberation Sans", Arial, sans-serif' fill="#1a1a1a">0,8</text>
<text transform="translate(1926.5 242.2) scale(0.830 1)" font-size="30.0" text-anchor="start" font-family='"Liberation Sans", Arial, sans-serif' fill="#1a1a1a">0,8</text>
<line x1="1150.6" y1="175.9" x2="1156.6" y2="175.9" stroke="#000" stroke-width="2.00"/>
<line x1="1907.2" y1="175.9" x2="1914.0" y2="175.9" stroke="#000" stroke-width="2.00"/>
<line x1="1145.1" y1="116.0" x2="1156.6" y2="116.0" stroke="#000" stroke-width="2.00"/>
<line x1="1907.2" y1="116.0" x2="1919.8" y2="116.0" stroke="#000" stroke-width="2.00"/>
<text transform="translate(1134.5 122.5) scale(0.830 1)" font-size="30.0" text-anchor="end" font-family='"Liberation Sans", Arial, sans-serif' fill="#1a1a1a">1,0</text>
<text transform="translate(1926.5 122.5) scale(0.830 1)" font-size="30.0" text-anchor="start" font-family='"Liberation Sans", Arial, sans-serif' fill="#1a1a1a">1,0</text>
<line x1="1224.8" y1="714.7" x2="1224.8" y2="725.9" stroke="#000" stroke-width="2.00"/>
<text transform="translate(1224.8 754.0) scale(0.850 1)" font-size="30.0" text-anchor="middle" font-family='"Liberation Sans", Arial, sans-serif' fill="#1a1a1a">450</text>
<line x1="1338.6" y1="714.7" x2="1338.6" y2="725.9" stroke="#000" stroke-width="2.00"/>
<text transform="translate(1338.6 754.0) scale(0.850 1)" font-size="30.0" text-anchor="middle" font-family='"Liberation Sans", Arial, sans-serif' fill="#1a1a1a">500</text>
<line x1="1452.3" y1="714.7" x2="1452.3" y2="725.9" stroke="#000" stroke-width="2.00"/>
<text transform="translate(1452.3 754.0) scale(0.850 1)" font-size="30.0" text-anchor="middle" font-family='"Liberation Sans", Arial, sans-serif' fill="#1a1a1a">550</text>
<line x1="1566.0" y1="714.7" x2="1566.0" y2="725.9" stroke="#000" stroke-width="2.00"/>
<text transform="translate(1566.0 754.0) scale(0.850 1)" font-size="30.0" text-anchor="middle" font-family='"Liberation Sans", Arial, sans-serif' fill="#1a1a1a">600</text>
<line x1="1679.7" y1="714.7" x2="1679.7" y2="725.9" stroke="#000" stroke-width="2.00"/>
<text transform="translate(1679.7 754.0) scale(0.850 1)" font-size="30.0" text-anchor="middle" font-family='"Liberation Sans", Arial, sans-serif' fill="#1a1a1a">650</text>
<line x1="1793.5" y1="714.7" x2="1793.5" y2="725.9" stroke="#000" stroke-width="2.00"/>
<text transform="translate(1793.5 754.0) scale(0.850 1)" font-size="30.0" text-anchor="middle" font-family='"Liberation Sans", Arial, sans-serif' fill="#1a1a1a">700</text>
<line x1="1907.2" y1="714.7" x2="1907.2" y2="725.9" stroke="#000" stroke-width="2.00"/>
<text transform="translate(1907.2 754.0) scale(0.850 1)" font-size="30.0" text-anchor="middle" font-family='"Liberation Sans", Arial, sans-serif' fill="#1a1a1a">750</text>
<line x1="1168.0" y1="714.7" x2="1168.0" y2="720.5" stroke="#000" stroke-width="2.00"/>
<line x1="1281.7" y1="714.7" x2="1281.7" y2="720.5" stroke="#000" stroke-width="2.00"/>
<line x1="1395.4" y1="714.7" x2="1395.4" y2="720.5" stroke="#000" stroke-width="2.00"/>
<line x1="1509.2" y1="714.7" x2="1509.2" y2="720.5" stroke="#000" stroke-width="2.00"/>
<line x1="1622.9" y1="714.7" x2="1622.9" y2="720.5" stroke="#000" stroke-width="2.00"/>
<line x1="1736.6" y1="714.7" x2="1736.6" y2="720.5" stroke="#000" stroke-width="2.00"/>
<line x1="1850.3" y1="714.7" x2="1850.3" y2="720.5" stroke="#000" stroke-width="2.00"/>
<line x1="1235.2" y1="109.7" x2="1235.2" y2="99.1" stroke="#000" stroke-width="2.00"/>
<text transform="translate(1235.2 82.2) scale(0.850 1)" font-size="30.0" text-anchor="middle" font-family='"Liberation Sans", Arial, sans-serif' fill="#1a1a1a">22000</text>
<line x1="1338.6" y1="109.7" x2="1338.6" y2="99.1" stroke="#000" stroke-width="2.00"/>
<text transform="translate(1338.6 82.2) scale(0.850 1)" font-size="30.0" text-anchor="middle" font-family='"Liberation Sans", Arial, sans-serif' fill="#1a1a1a">20000</text>
<line x1="1464.9" y1="109.7" x2="1464.9" y2="99.1" stroke="#000" stroke-width="2.00"/>
<text transform="translate(1464.9 82.2) scale(0.850 1)" font-size="30.0" text-anchor="middle" font-family='"Liberation Sans", Arial, sans-serif' fill="#1a1a1a">18000</text>
<line x1="1622.9" y1="109.7" x2="1622.9" y2="99.1" stroke="#000" stroke-width="2.00"/>
<text transform="translate(1622.9 82.2) scale(0.850 1)" font-size="30.0" text-anchor="middle" font-family='"Liberation Sans", Arial, sans-serif' fill="#1a1a1a">16000</text>
<line x1="1826.0" y1="109.7" x2="1826.0" y2="99.1" stroke="#000" stroke-width="2.00"/>
<text transform="translate(1826.0 82.2) scale(0.850 1)" font-size="30.0" text-anchor="middle" font-family='"Liberation Sans", Arial, sans-serif' fill="#1a1a1a">14000</text>
<line x1="1190.2" y1="109.7" x2="1190.2" y2="104.1" stroke="#000" stroke-width="2.00"/>
<line x1="1284.4" y1="109.7" x2="1284.4" y2="104.1" stroke="#000" stroke-width="2.00"/>
<line x1="1398.4" y1="109.7" x2="1398.4" y2="104.1" stroke="#000" stroke-width="2.00"/>
<line x1="1539.3" y1="109.7" x2="1539.3" y2="104.1" stroke="#000" stroke-width="2.00"/>
<line x1="1717.7" y1="109.7" x2="1717.7" y2="104.1" stroke="#000" stroke-width="2.00"/>
<rect x="609.2" y="105.8" width="268.2" height="256.8" fill="#fff" stroke="#000" stroke-width="1.60"/>
<line x1="612.0" y1="126.0" x2="682.5" y2="126.0" stroke="#515151" stroke-width="1.50"/>
<text x="689.8" y="136.9" font-size="32.0" text-anchor="start" font-family='"Liberation Sans", Arial, sans-serif' font-weight="normal" font-style="normal" fill="#000" textLength="182.5" lengthAdjust="spacingAndGlyphs">No metal salt</text>
<line x1="612.0" y1="170.9" x2="682.5" y2="170.9" stroke="#1A6FDF" stroke-width="1.50"/>
<text x="689.8" y="178.9" font-size="32.0" text-anchor="start" font-family='"Liberation Sans", Arial, sans-serif' font-weight="normal" font-style="normal" fill="#000">Au<tspan font-size="21.0" dy="-12.0">+</tspan></text>
<line x1="612.0" y1="213.3" x2="682.5" y2="213.3" stroke="#37AD6B" stroke-width="1.50"/>
<text x="689.8" y="221.8" font-size="32.0" text-anchor="start" font-family='"Liberation Sans", Arial, sans-serif' font-weight="normal" font-style="normal" fill="#000">Fe<tspan font-size="21.0" dy="-12.0">2+</tspan></text>
<line x1="612.0" y1="255.7" x2="682.5" y2="255.7" stroke="#B177DE" stroke-width="1.50"/>
<text x="689.8" y="263.9" font-size="32.0" text-anchor="start" font-family='"Liberation Sans", Arial, sans-serif' font-weight="normal" font-style="normal" fill="#000">Al<tspan font-size="21.0" dy="-12.0">3+</tspan></text>
<line x1="612.0" y1="298.1" x2="682.5" y2="298.1" stroke="#CC9900" stroke-width="1.50"/>
<text x="689.8" y="306.2" font-size="32.0" text-anchor="start" font-family='"Liberation Sans", Arial, sans-serif' font-weight="normal" font-style="normal" fill="#000">Fe<tspan font-size="21.0" dy="-12.0">3+</tspan></text>
<line x1="612.0" y1="340.7" x2="682.5" y2="340.7" stroke="#F14040" stroke-width="1.50"/>
<text x="689.8" y="348.6" font-size="32.0" text-anchor="start" font-family='"Liberation Sans", Arial, sans-serif' font-weight="normal" font-style="normal" fill="#000">Ru<tspan font-size="21.0" dy="-12.0">3+</tspan></text>
<rect x="1638.6" y="111.3" width="270.2" height="172.1" fill="#fff" stroke="#000" stroke-width="1.70"/>
<line x1="1642.5" y1="133.9" x2="1711.5" y2="133.9" stroke="#515151" stroke-width="1.50"/>
<text x="1718.7" y="143.1" font-size="32.0" text-anchor="start" font-family='"Liberation Sans", Arial, sans-serif' font-weight="normal" font-style="normal" fill="#000" textLength="185.5" lengthAdjust="spacingAndGlyphs">No metal salt</text>
<line x1="1642.5" y1="176.8" x2="1711.5" y2="176.8" stroke="#37AD6B" stroke-width="1.50"/>
<text x="1718.7" y="185.0" font-size="32.0" text-anchor="start" font-family='"Liberation Sans", Arial, sans-serif' font-weight="normal" font-style="normal" fill="#000">Ag<tspan font-size="21.0" dy="-12.0">+</tspan></text>
<line x1="1642.5" y1="219.5" x2="1711.5" y2="219.5" stroke="#1A6FDF" stroke-width="1.50"/>
<text x="1718.7" y="227.2" font-size="32.0" text-anchor="start" font-family='"Liberation Sans", Arial, sans-serif' font-weight="normal" font-style="normal" fill="#000">Pt<tspan font-size="21.0" dy="-12.0">2+</tspan></text>
<line x1="1642.5" y1="261.6" x2="1711.5" y2="261.6" stroke="#F14040" stroke-width="1.50"/>
<text x="1718.7" y="270.0" font-size="32.0" text-anchor="start" font-family='"Liberation Sans", Arial, sans-serif' font-weight="normal" font-style="normal" fill="#000">Al<tspan font-size="21.0" dy="-12.0">3+</tspan></text>
<line x1="877.6" y1="104.8" x2="877.6" y2="712.0" stroke="#000" stroke-width="2.00"/>
<line x1="126.0" y1="105.8" x2="878.6" y2="105.8" stroke="#000" stroke-width="2.00"/>
<line x1="1907.2" y1="108.7" x2="1907.2" y2="715.7" stroke="#000" stroke-width="2.00"/>
<line x1="1155.6" y1="109.7" x2="1908.2" y2="109.7" stroke="#000" stroke-width="2.00"/>
<rect x="140.7" y="111.7" width="47.5" height="65.3" fill="#fff" stroke="#000" stroke-width="1.5"/>
<text x="163.4" y="160.0" font-size="50.0" text-anchor="middle" font-family='"Liberation Sans", Arial, sans-serif' font-weight="bold" font-style="normal" fill="#000">A</text>
<rect x="1160.1" y="115.9" width="49.4" height="64.8" fill="#fff" stroke="#000" stroke-width="1.5"/>
<text x="1184.0" y="163.3" font-size="47.0" text-anchor="middle" font-family='"Liberation Sans", Arial, sans-serif' font-weight="bold" font-style="normal" fill="#000">B</text>
<text x="351.0" y="37.0" font-size="33.0" text-anchor="start" font-family='"Liberation Sans", Arial, sans-serif' font-weight="normal" font-style="normal" fill="#1a1a1a" textLength="185.8" lengthAdjust="spacingAndGlyphs">Wavenumber</text>
<text x="575.3" y="37.0" font-size="33.0" text-anchor="start" font-family='"Liberation Sans", Arial, sans-serif' font-weight="normal" font-style="normal" fill="#1a1a1a" textLength="50.0" lengthAdjust="spacingAndGlyphs">[cm</text>
<text x="625.5" y="24.5" font-size="19.0" text-anchor="start" font-family='"Liberation Sans", Arial, sans-serif' font-weight="normal" font-style="normal" fill="#1a1a1a">-1</text>
<text x="643.0" y="37.0" font-size="33.0" text-anchor="start" font-family='"Liberation Sans", Arial, sans-serif' font-weight="normal" font-style="normal" fill="#1a1a1a">]</text>
<text x="549.5" y="37.0" font-size="37.0" text-anchor="start" font-family='"Liberation Serif", "Times New Roman", serif' font-weight="normal" font-style="italic" fill="#1a1a1a">ν</text>
<text x="554.5" y="21.0" font-size="19.0" text-anchor="start" font-family='"Liberation Serif", "Times New Roman", serif' font-weight="normal" font-style="normal" fill="#1a1a1a">~</text>
<text x="1381.3" y="41.7" font-size="33.0" text-anchor="start" font-family='"Liberation Sans", Arial, sans-serif' font-weight="normal" font-style="normal" fill="#1a1a1a" textLength="185.8" lengthAdjust="spacingAndGlyphs">Wavenumber</text>
<text x="1605.6" y="41.7" font-size="33.0" text-anchor="start" font-family='"Liberation Sans", Arial, sans-serif' font-weight="normal" font-style="normal" fill="#1a1a1a" textLength="50.0" lengthAdjust="spacingAndGlyphs">[cm</text>
<text x="1655.8" y="29.2" font-size="19.0" text-anchor="start" font-family='"Liberation Sans", Arial, sans-serif' font-weight="normal" font-style="normal" fill="#1a1a1a">-1</text>
<text x="1673.3" y="41.7" font-size="33.0" text-anchor="start" font-family='"Liberation Sans", Arial, sans-serif' font-weight="normal" font-style="normal" fill="#1a1a1a">]</text>
<text x="1579.8" y="41.7" font-size="37.0" text-anchor="start" font-family='"Liberation Serif", "Times New Roman", serif' font-weight="normal" font-style="italic" fill="#1a1a1a">ν</text>
<text x="1584.8" y="25.7" font-size="19.0" text-anchor="start" font-family='"Liberation Serif", "Times New Roman", serif' font-weight="normal" font-style="normal" fill="#1a1a1a">~</text>
<text x="371.4" y="799.8" font-size="33.0" text-anchor="start" font-family='"Liberation Sans", Arial, sans-serif' font-weight="normal" font-style="normal" fill="#1a1a1a" textLength="164.0" lengthAdjust="spacingAndGlyphs">Wavelength</text>
<text x="544.5" y="799.8" font-size="33.0" text-anchor="start" font-family='"Liberation Serif", "Times New Roman", serif' font-weight="normal" font-style="normal" fill="#1a1a1a">λ</text>
<text x="572.2" y="799.8" font-size="33.0" text-anchor="start" font-family='"Liberation Sans", Arial, sans-serif' font-weight="normal" font-style="normal" fill="#1a1a1a" textLength="60.0" lengthAdjust="spacingAndGlyphs">[nm]</text>
<text x="1400.6" y="803.9" font-size="33.0" text-anchor="start" font-family='"Liberation Sans", Arial, sans-serif' font-weight="normal" font-style="normal" fill="#1a1a1a" textLength="164.0" lengthAdjust="spacingAndGlyphs">Wavelength</text>
<text x="1574.6" y="803.9" font-size="33.0" text-anchor="start" font-family='"Liberation Serif", "Times New Roman", serif' font-weight="normal" font-style="normal" fill="#1a1a1a">λ</text>
<text x="1601.4" y="803.9" font-size="33.0" text-anchor="start" font-family='"Liberation Sans", Arial, sans-serif' font-weight="normal" font-style="normal" fill="#1a1a1a" textLength="60.0" lengthAdjust="spacingAndGlyphs">[nm]</text>
<text x="36.0" y="555.5" font-size="33.0" text-anchor="start" font-family='"Liberation Sans", Arial, sans-serif' font-weight="normal" font-style="normal" fill="#1a1a1a" textLength="324.0" lengthAdjust="spacingAndGlyphs" transform="rotate(-90 36.0 555.5)" xml:space="preserve">Normalized  absorption</text>
<text x="975.0" y="547.5" font-size="33.0" text-anchor="start" font-family='"Liberation Sans", Arial, sans-serif' font-weight="normal" font-style="normal" fill="#1a1a1a" textLength="311.0" lengthAdjust="spacingAndGlyphs" transform="rotate(-90 975.0 547.5)">Normalized absorption</text>
<text x="1065.0" y="565.0" font-size="33.0" text-anchor="start" font-family='"Liberation Sans", Arial, sans-serif' font-weight="normal" font-style="normal" fill="#1a1a1a" textLength="345.0" lengthAdjust="spacingAndGlyphs" transform="rotate(-90 1065.0 565.0)">Normalized fluorescence</text>
<text x="1996.3" y="585.0" font-size="33.0" text-anchor="start" font-family='"Liberation Sans", Arial, sans-serif' font-weight="normal" font-style="normal" fill="#1a1a1a" textLength="344.0" lengthAdjust="spacingAndGlyphs" transform="rotate(-90 1996.3 585.0)">Normalized fluorescence</text>
</g>
</svg>
</body></html>
